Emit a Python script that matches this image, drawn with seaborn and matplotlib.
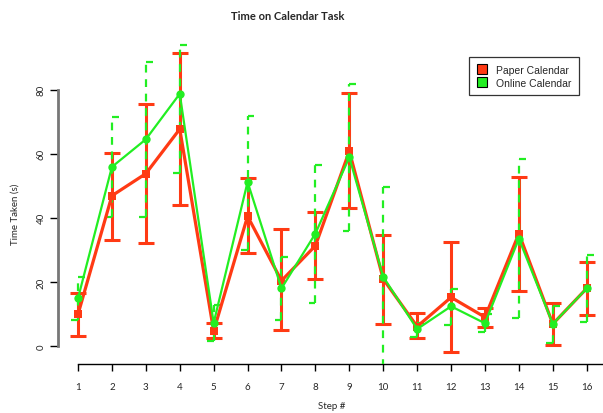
import numpy as np
import pandas as pd
import matplotlib
matplotlib.use("Agg")
import matplotlib.pyplot as plt
from matplotlib.lines import Line2D
import seaborn as sns

steps = list(range(1, 17))

paper_mean = [9.9, 46.9, 53.8, 67.7, 4.7, 40.5, 20.4, 31.3, 60.8, 20.9, 6.1, 15.2, 9.0, 35.1, 6.9, 18.0]
paper_low = [3.2, 33.2, 32.0, 43.9, 2.4, 28.9, 4.9, 20.8, 43.1, 7.0, 2.5, -2.0, 5.9, 17.2, 0.4, 9.8]
paper_high = [16.5, 60.3, 75.6, 91.4, 7.1, 52.5, 36.4, 41.7, 78.9, 34.6, 10.2, 32.5, 12.0, 52.7, 13.5, 26.2]

online_mean = [14.9, 55.9, 64.5, 78.7, 7.2, 51.2, 18.0, 35.1, 58.9, 21.6, 5.3, 12.4, 7.1, 33.5, 6.9, 18.0]
online_low = [8.0, 40.2, 40.3, 54.0, 1.5, 30.1, 8.2, 13.4, 35.8, -6.5, 2.7, 6.7, 4.3, 8.6, 0.9, 7.4]
online_high = [21.5, 71.4, 88.5, 94.0, 12.8, 71.8, 27.8, 56.6, 81.7, 49.7, 7.2, 17.8, 10.0, 58.4, 12.6, 28.5]

series_names = ["Paper Calendar", "Online Calendar"]
red = "#ff3a14"
green = "#22ee22"

df = pd.DataFrame({
    "step": steps * 2,
    "time": paper_mean + online_mean,
    "calendar": [series_names[0]] * 16 + [series_names[1]] * 16,
})

sns.set_style("white")
plt.rcParams["font.family"] = ["Lato", "DejaVu Sans"]

fig = plt.figure(figsize=(6.03, 4.14), dpi=100)
ax = fig.add_axes([58 / 603, 49 / 414, 545 / 603, 325 / 414])

# error bars
ax.errorbar(steps, paper_mean,
            yerr=[np.subtract(paper_mean, paper_low), np.subtract(paper_high, paper_mean)],
            fmt="none", ecolor=red, elinewidth=2.2, capsize=5.5, capthick=2.2, zorder=2)
ax.vlines(steps, online_low, online_high, colors=green, linewidth=1.6,
          linestyles=(0, (3.5, 3)), zorder=3)
# R draws the dashed caps so only half shows
x = np.array(steps)
ax.hlines(online_high, x, x + 0.2, colors=green, linewidth=1.6, zorder=3)
ax.hlines(online_low, x - 0.2, x, colors=green, linewidth=1.6, zorder=3)

sns.lineplot(data=df, x="step", y="time", hue="calendar", style="calendar",
             palette=[red, green], markers=["s", "o"], dashes=False,
             markersize=6, markeredgewidth=0, legend=False, ax=ax, zorder=4)
lines = ax.get_lines()
lines[-2].set_linewidth(2.3)
lines[-1].set_linewidth(1.6)

ax.set_xlim(0.41, 16.48)
ax.set_ylim(-5.6, 95.8)
ax.set_xticks(steps)
ax.set_yticks([0, 20, 40, 60, 80])
ax.set_xlabel("")
ax.set_ylabel("")

for s in ["top", "right"]:
    ax.spines[s].set_visible(False)
ax.spines["left"].set_bounds(0, 80)
ax.spines["left"].set_color("#777777")
ax.spines["left"].set_linewidth(2)
ax.spines["bottom"].set_bounds(1, 16.48)
ax.spines["bottom"].set_color("black")
ax.spines["bottom"].set_linewidth(1)

ax.tick_params(axis="x", direction="out", length=5, width=1, color="black",
               labelsize=7, pad=8, bottom=True)
ax.tick_params(axis="y", direction="out", length=6, width=1, color="black",
               labelsize=7, pad=3, left=True)
for lab in ax.get_yticklabels():
    lab.set_rotation(90)
    lab.set_va("center")

fig.text(288 / 603, 1 - 16 / 414, "Time on Calendar Task", ha="center", va="center",
         fontsize=8, fontweight="bold")
fig.text(15 / 603, 1 - 214 / 414, "Time Taken (s)", ha="center", va="center",
         rotation=90, fontsize=7)
fig.text(332 / 603, 1 - 407 / 414, "Step #", ha="center", va="center", fontsize=7)

handles = [Line2D([], [], linestyle="none", marker="s", markersize=6.5,
                  markerfacecolor=c, markeredgecolor="black", markeredgewidth=0.8)
           for c in [red, green]]
leg = fig.legend(handles, series_names, loc="upper right",
                 bbox_to_anchor=(579 / 603, 1 - 57.7 / 414),
                 frameon=True, fancybox=False, edgecolor="black",
                 prop={"family": ["Liberation Sans"], "size": 7.5},
                 handlelength=1.0, handletextpad=0.8, labelspacing=0.3,
                 borderpad=0.75, borderaxespad=0)
leg.get_frame().set_linewidth(0.9)

fig.savefig("out.png", dpi=100)
